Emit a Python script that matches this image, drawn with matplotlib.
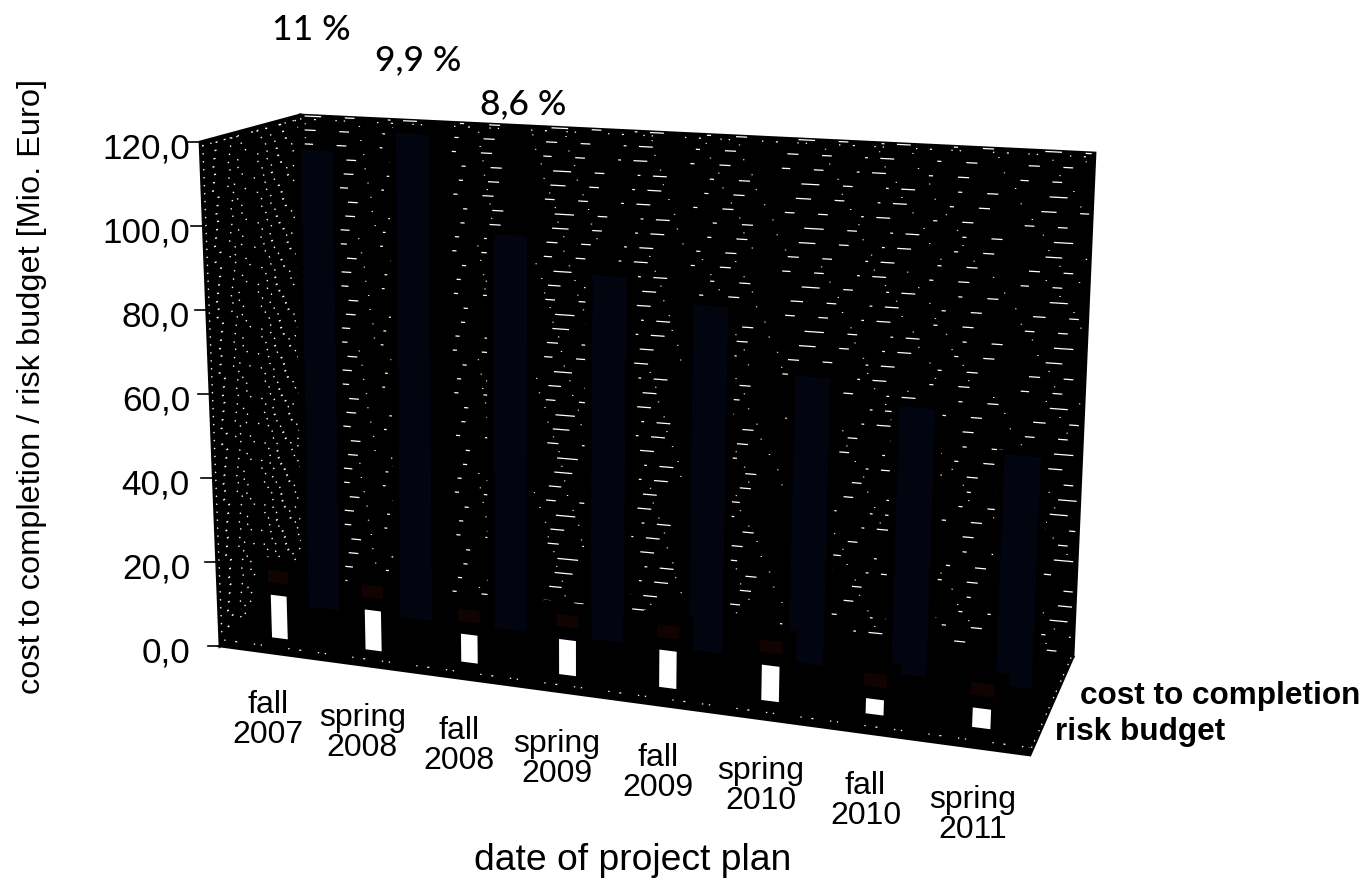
import numpy as np
import matplotlib
matplotlib.use("Agg")
import matplotlib.pyplot as plt
from matplotlib.patches import Polygon

categories = ["fall\n2007", "spring\n2008", "fall\n2008", "spring\n2009",
              "fall\n2009", "spring\n2010", "fall\n2010", "spring\n2011"]
cost_to_completion = [115, 121, 98, 90, 85, 70, 65, 56]
risk_budget = [10.3, 9.6, 6.7, 8.4, 8.9, 8.4, 3.6, 4.6]
share_labels = ["11 %", "9,9 %", "8,6 %"]
value_ticks = [0, 20, 40, 60, 80, 100, 120]

plt.rcParams["font.family"] = ["Liberation Sans", "DejaVu Sans"]
plt.rcParams["lines.scale_dashes"] = False

# pixel corners of the 3D box: (depth, value level) at left and right end
left = {(0, 0): (220, 646), (1, 0): (303, 580), (0, 1): (200, 142), (1, 1): (300, 115)}
right = {(0, 0): (1030, 755), (1, 0): (1073, 657), (0, 1): (1052, 245), (1, 1): (1095, 153)}


def project(u, w, v):
    # trilinear inside the box, categories get wider toward the right
    s = u / 8
    s = s * (0.914 + 0.086 * s)
    t = v / 120
    out = []
    for k in (0, 1):
        a = (1 - w) * ((1 - t) * left[0, 0][k] + t * left[0, 1][k]) + w * ((1 - t) * left[1, 0][k] + t * left[1, 1][k])
        b = (1 - w) * ((1 - t) * right[0, 0][k] + t * right[0, 1][k]) + w * ((1 - t) * right[1, 0][k] + t * right[1, 1][k])
        out.append((1 - s) * a + s * b)
    return out[0], out[1]


def box(ax, u, w, half_u, v0, v1, color, z):
    pts = [project(u - half_u, w, v0), project(u + half_u, w, v0),
           project(u + half_u, w, v1), project(u - half_u, w, v1)]
    ax.add_patch(Polygon(pts, closed=True, fc=color, ec="none", zorder=z))


fig = plt.figure(figsize=(13.69, 8.84), dpi=100)
ax = fig.add_axes([0, 0, 1, 1])
ax.set_xlim(0, 1369)
ax.set_ylim(884, 0)
ax.axis("off")

# walls and floor
wall = [project(0, 1, 0), project(8, 1, 0), project(8, 1, 120), project(0, 1, 120)]
side = [project(0, 0, 0), project(0, 1, 0), project(0, 1, 120), project(0, 0, 120)]
floor = [project(0, 0, 0), project(8, 0, 0), project(8, 1, 0), project(0, 1, 0)]
for shape in (wall, side, floor):
    ax.add_patch(Polygon(shape, closed=True, fc="black", ec="black", lw=2, zorder=1))

# speckled texture of the back wall and side wall
for k, v in enumerate(np.arange(1, 120, 3.6)):
    x0, y0 = project(0.05, 1, v)
    x1, y1 = project(7.97, 1, v)
    off = (k * 37) % 90
    ax.plot([x0, x1], [y0, y1], color="white", lw=0.9, zorder=2,
            dashes=[off % 11 + 5, 17, 7, 24, 2, 9, 10, 31, 3, 18, 8, 37], dash_capstyle="butt")
    x0, y0 = project(0.05, 1, v + 1.6)
    x1, y1 = project(7.97, 1, v + 1.6)
    ax.plot([x0, x1], [y0, y1], color="white", lw=0.7, zorder=2,
            dashes=[1, 37 + off % 13, 1, 23, 1, 61])
for k, v in enumerate(np.arange(3, 120, 1.9)):
    x0, y0 = project(0, 0.02, v)
    x1, y1 = project(0, 0.98, v)
    off = (k * 19) % 23
    ax.plot([x0, x1], [y0, y1], color="white", lw=1.0, zorder=2,
            dashes=[1, 5 + off % 5, 1.5, 10, 1, 3 + off % 9, 1, 14, 1, 6])

# rough top and outer edges
edge_dots = dict(color="white", lw=0.9, zorder=2)
ax.plot(*zip(project(0, 0.02, 119), project(0, 1, 119)), dashes=[1, 5, 1, 9, 1.5, 3], **edge_dots)
ax.plot(*zip(project(0, 1, 119), project(8, 1, 119)), dashes=[1, 9, 1.5, 14, 1, 5, 1, 23], **edge_dots)
ax.plot(*zip(project(0.02, 0.03, 1), project(7.98, 0.03, 1)), dashes=[1, 7, 1.5, 12, 1, 4, 1, 19], **edge_dots)
ax.plot(*zip(project(8, 0.03, 1), project(8, 1, 1)), dashes=[1, 4, 1, 7], **edge_dots)

# bars
for i, (cost, risk) in enumerate(zip(cost_to_completion, risk_budget)):
    box(ax, i + 0.6, 0.6, 0.24, 0, cost + 1, "black", 3)
    box(ax, i + 0.6, 0.6, 0.17, 1, cost, "#02040f", 4)
    box(ax, i + 0.47, 0.2, 0.24, 0, risk + 9, "black", 6)
    box(ax, i + 0.47, 0.2, 0.11, risk + 3, risk + 6, "#120303", 6.5)
    box(ax, i + 0.47, 0.2, 0.085, 0, risk, "white", 7)

# value axis
for v in value_ticks:
    x, y = project(0, 0, v)
    ax.plot([x - 12, x], [y, y], color="black", lw=1.2, zorder=2)
    ax.text(190, y + 7, f"{v},0", ha="right", va="center", fontsize=25.3)

for i, label in enumerate(categories):
    x, y = project(i + 0.5, 0, 0)
    ax.text(x + 2 - 5 * (i + 0.5) / 8, y + 67.5, label, ha="center", va="center",
            fontsize=23, linespacing=1.0)

pct_xy = [(311, 30), (418, 60), (523, 104)]
for label, (x, y) in zip(share_labels, pct_xy):
    ax.text(x, y, label, ha="center", va="center", fontsize=25.5, fontweight="medium",
            family=["Lato", "DejaVu Sans"])

ax.text(1080, 696, "cost to completion", ha="left", va="center", fontsize=22.7, fontweight="bold")
ax.text(1055, 732, "risk budget", ha="left", va="center", fontsize=22.7, fontweight="bold")
ax.text(633, 860, "date of project plan", ha="center", va="center", fontsize=26.8)
ax.text(32, 386, "cost to completion / risk budget [Mio. Euro]", rotation=90,
        ha="center", va="center", fontsize=23.4)

fig.savefig("out.png", dpi=100)
